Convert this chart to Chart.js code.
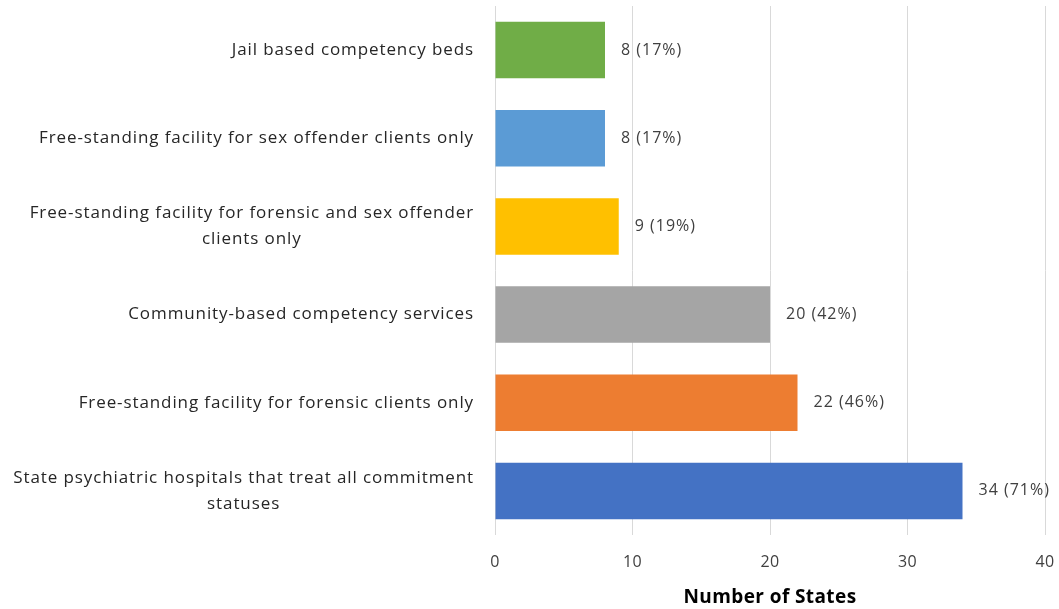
<!DOCTYPE html>
<html>
<head>
<meta charset="utf-8">
<script src="https://cdn.jsdelivr.net/npm/chart.js@4"></script>
<style>
  body { margin: 0; background: #fff; }
  #wrap { width: 1059px; height: 609px; }
</style>
</head>
<body>
<div id="wrap"><canvas id="statesChart"></canvas></div>
<script>
// categories, top to bottom (wrapped lines as arrays)
const categories = [
    ['Jail based competency beds'],
    ['Free-standing facility for sex offender clients only'],
    ['Free-standing facility for forensic and sex offender', 'clients only'],
    ['Community-based competency services'],
    ['Free-standing facility for forensic clients only'],
    ['State psychiatric hospitals that treat all commitment', 'statuses']
];
const stateCounts = [8, 8, 9, 20, 22, 34];
const statePercents = ['17%', '17%', '19%', '42%', '46%', '71%'];
const barColors = ['#70AD47', '#5B9BD5', '#FFC000', '#A5A5A5', '#ED7D31', '#4472C4'];
const xTicks = [0, 10, 20, 30, 40];

const FONT = '"Open Sans", "Liberation Sans", Arial, sans-serif';

// slightly wider letter spacing, closer to the original
const spacing = {
    id: 'spacing',
    beforeDraw(chart) { chart.ctx.letterSpacing = '0.4px'; }
};

// category labels: block right-aligned to the axis, lines centred on each other
const categoryLabels = {
    id: 'categoryLabels',
    afterDraw(chart) {
        const ctx = chart.ctx;
        const yScale = chart.scales.y;
        const rightEdge = chart.chartArea.left - 21;
        const lineH = 26;
        ctx.save();
        ctx.font = '17px ' + FONT;
        ctx.letterSpacing = '0.9px';
        ctx.fillStyle = '#262626';
        ctx.textBaseline = 'middle';
        ctx.textAlign = 'center';
        categories.forEach((lines, i) => {
            const y = yScale.getPixelForValue(i);
            const maxW = Math.max(...lines.map(l => ctx.measureText(l).width));
            const cx = rightEdge - maxW / 2;
            const y0 = y - (lines.length - 1) * lineH / 2;
            lines.forEach((l, j) => ctx.fillText(l, cx, y0 + j * lineH));
        });
        ctx.restore();
    }
};

// value labels to the right of each bar
const valueLabels = {
    id: 'valueLabels',
    afterDatasetsDraw(chart) {
        const ctx = chart.ctx;
        const meta = chart.getDatasetMeta(0);
        ctx.save();
        ctx.font = '16px ' + FONT;
        ctx.letterSpacing = '1px';
        ctx.fillStyle = '#404040';
        ctx.textBaseline = 'middle';
        ctx.textAlign = 'left';
        meta.data.forEach((bar, i) => {
            ctx.fillText(stateCounts[i] + ' (' + statePercents[i] + ')', bar.x + 16, bar.y);
        });
        ctx.restore();
    }
};

new Chart(document.getElementById('statesChart').getContext('2d'), {
    type: 'bar',
    data: {
        labels: categories.map(c => c.join(' ')),
        datasets: [{
            data: stateCounts,
            backgroundColor: barColors,
            borderWidth: 0,
            categoryPercentage: 1,
            barPercentage: 0.64
        }]
    },
    options: {
        indexAxis: 'y',
        responsive: true,
        maintainAspectRatio: false,
        animation: false,
        layout: { padding: { top: 6, right: 14, left: 0, bottom: 0 } },
        scales: {
            x: {
                min: 0,
                max: 40,
                afterBuildTicks: (scale) => { scale.ticks = xTicks.map(v => ({ value: v })); },
                afterFit: (scale) => {
                    scale.height = 74;
                    scale.paddingLeft = 0;
                    scale.paddingRight = 0;
                },
                grid: { color: '#D9D9D9', lineWidth: 1, drawTicks: false },
                border: { display: false },
                ticks: {
                    padding: 18,
                    color: '#404040',
                    font: { family: FONT, size: 16 }
                },
                title: {
                    display: true,
                    text: 'Number of States',
                    color: '#000',
                    font: { family: FONT, size: 19, weight: 'bold' },
                    padding: { top: 0, bottom: 0 }
                }
            },
            y: {
                afterFit: (scale) => { scale.width = 495; },
                grid: { display: false },
                border: { display: false },
                ticks: { display: false }
            }
        },
        plugins: {
            legend: { display: false },
            tooltip: { enabled: false }
        }
    },
    plugins: [spacing, categoryLabels, valueLabels]
});
</script>
</body>
</html>
